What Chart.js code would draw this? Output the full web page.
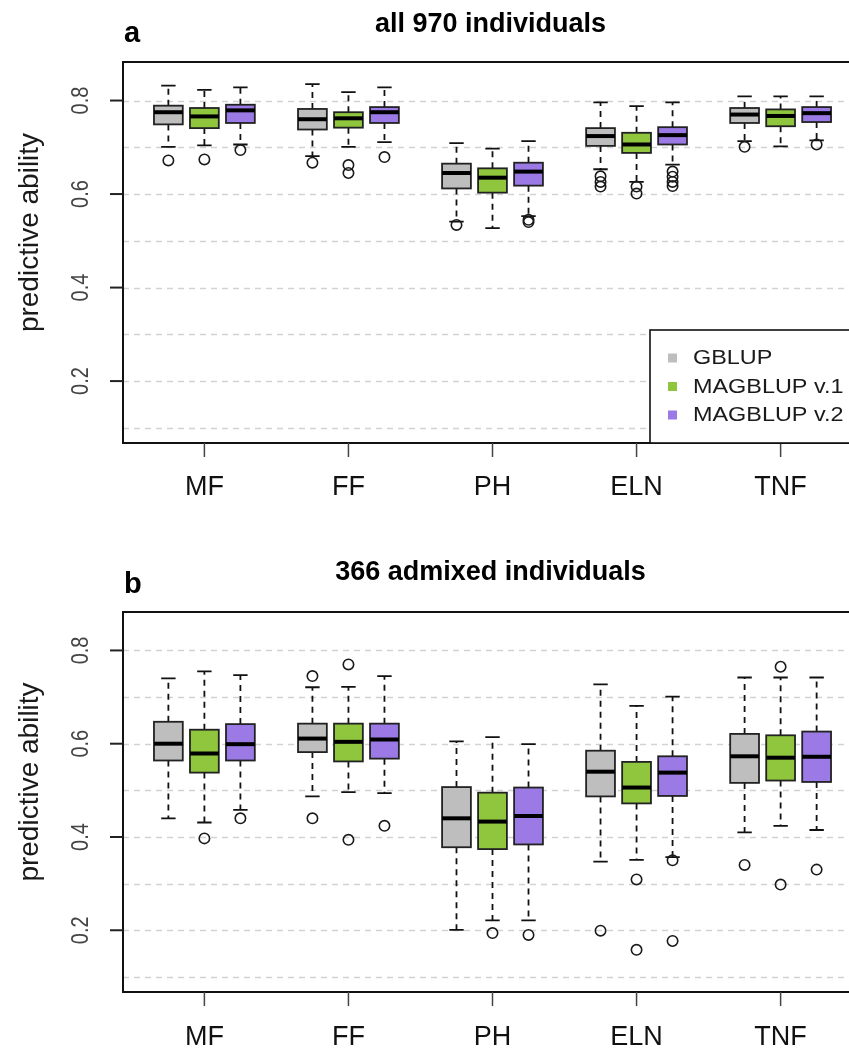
<!DOCTYPE html>
<html>
<head>
<meta charset="utf-8">
<script src="https://cdn.jsdelivr.net/npm/chart.js@4.4.0/dist/chart.umd.min.js"></script>
<style>
  html, body { margin: 0; padding: 0; background: #fff; overflow: hidden; width: 849px; height: 1048px; }
  .panel { position: absolute; left: 0; width: 880px; }
  #pa { top: 0; height: 520px; }
  #pb { top: 520px; height: 528px; }
</style>
</head>
<body>
<div class="panel" id="pa"><canvas id="chartA"></canvas></div>
<div class="panel" id="pb"><canvas id="chartB"></canvas></div>
<script>
// Box stats per trait: [lower whisker, Q1, median, Q3, upper whisker]
const traits = ['MF', 'FF', 'PH', 'ELN', 'TNF'];
const methods = ['GBLUP', 'MAGBLUP v.1', 'MAGBLUP v.2'];
const methodColors = ['#bebebe', '#8fc63e', '#9b7ae6'];
const yTicks = [0.2, 0.4, 0.6, 0.8];
const yGrid = [0.1, 0.2, 0.3, 0.4, 0.5, 0.6, 0.7, 0.8];

// panel a — all 970 individuals
const allGblup = [[0.701, 0.749, 0.775, 0.789, 0.832], [0.681, 0.738, 0.760, 0.782, 0.835], [0.541, 0.612, 0.645, 0.665, 0.709], [0.653, 0.703, 0.724, 0.741, 0.796], [0.713, 0.752, 0.770, 0.784, 0.809]];
const allMag1  = [[0.704, 0.741, 0.766, 0.784, 0.823], [0.701, 0.742, 0.762, 0.775, 0.818], [0.527, 0.603, 0.635, 0.655, 0.697], [0.626, 0.688, 0.706, 0.731, 0.788], [0.702, 0.745, 0.767, 0.781, 0.809]];
const allMag2  = [[0.706, 0.752, 0.779, 0.791, 0.828], [0.711, 0.752, 0.775, 0.786, 0.828], [0.553, 0.618, 0.648, 0.667, 0.713], [0.663, 0.706, 0.726, 0.743, 0.796], [0.715, 0.754, 0.773, 0.786, 0.809]];
const allGblupOut = [[0.672], [0.667], [0.534], [0.638, 0.626, 0.616], [0.701]];
const allMag1Out  = [[0.674], [0.662, 0.645], [], [0.616, 0.601], []];
const allMag2Out  = [[0.694], [0.679], [0.545, 0.540], [0.648, 0.637, 0.626, 0.617], [0.706]];

// panel b — 366 admixed individuals
const admGblup = [[0.440, 0.564, 0.600, 0.647, 0.740], [0.487, 0.582, 0.611, 0.643, 0.721], [0.201, 0.378, 0.440, 0.507, 0.605], [0.347, 0.487, 0.540, 0.585, 0.727], [0.410, 0.516, 0.573, 0.621, 0.742]];
const admMag1  = [[0.431, 0.538, 0.579, 0.630, 0.755], [0.496, 0.562, 0.604, 0.643, 0.722], [0.221, 0.374, 0.433, 0.495, 0.614], [0.351, 0.472, 0.506, 0.561, 0.681], [0.424, 0.521, 0.570, 0.618, 0.742]];
const admMag2  = [[0.458, 0.564, 0.599, 0.642, 0.747], [0.494, 0.568, 0.609, 0.643, 0.745], [0.221, 0.384, 0.445, 0.506, 0.599], [0.357, 0.488, 0.538, 0.573, 0.701], [0.415, 0.518, 0.572, 0.626, 0.742]];
const admGblupOut = [[], [0.745, 0.440], [], [0.199], [0.340]];
const admMag1Out  = [[0.397], [0.770, 0.394], [0.194], [0.309, 0.158], [0.765, 0.298]];
const admMag2Out  = [[0.440], [0.424], [0.190], [0.350, 0.177], [0.330]];

const FONT = '"Liberation Sans", Arial, sans-serif';
const boxW = 0.8;   // in x units (one box slot = 1)
const xMin = -0.26, xMax = 20.26, yMin = 0.0676, yMax = 0.8824;

function pos(ti, mi) { return ti * 4 + mi + 1; }

function outlierSets(outs) {
  return outs.map((perTrait, mi) => ({
    type: 'scatter',
    label: methods[mi],
    data: perTrait.flatMap((vals, ti) => vals.map(v => ({ x: pos(ti, mi), y: v }))),
    pointStyle: 'circle',
    pointRadius: 5.2,
    pointBackgroundColor: 'rgba(0,0,0,0)',
    pointBorderColor: '#1a1a1a',
    pointBorderWidth: 1.6
  }));
}

const boxPlugin = {
  id: 'rbox',
  beforeDatasetsDraw(chart) {
    const o = chart.options.plugins.rbox;
    const { ctx, chartArea: a, scales: { x, y } } = chart;
    ctx.save();
    // dashed grid
    ctx.strokeStyle = '#d2d2d2';
    ctx.lineWidth = 1.5;
    ctx.setLineDash([6, 5]);
    yGrid.forEach(v => {
      const py = Math.round(y.getPixelForValue(v)) + 0.5;
      ctx.beginPath(); ctx.moveTo(a.left, py); ctx.lineTo(a.right, py); ctx.stroke();
    });
    // boxes
    o.stats.forEach((series, mi) => {
      series.forEach((s, ti) => {
        const cx = x.getPixelForValue(pos(ti, mi));
        const half = (x.getPixelForValue(boxW / 2) - x.getPixelForValue(0));
        const cap = half / 2;
        const [lo, q1, med, q3, hi] = s.map(v => y.getPixelForValue(v));
        ctx.strokeStyle = '#111';
        ctx.lineWidth = 1.8;
        ctx.setLineDash([6, 5]);
        ctx.beginPath();
        ctx.moveTo(cx, q3); ctx.lineTo(cx, hi);
        ctx.moveTo(cx, q1); ctx.lineTo(cx, lo);
        ctx.stroke();
        ctx.setLineDash([]);
        ctx.beginPath();
        ctx.moveTo(cx - cap, hi); ctx.lineTo(cx + cap, hi);
        ctx.moveTo(cx - cap, lo); ctx.lineTo(cx + cap, lo);
        ctx.stroke();
        ctx.fillStyle = methodColors[mi];
        ctx.fillRect(cx - half, q3, half * 2, q1 - q3);
        ctx.lineWidth = 1.8;
        ctx.strokeStyle = '#222';
        ctx.strokeRect(cx - half, q3, half * 2, q1 - q3);
        ctx.lineWidth = 4;
        ctx.strokeStyle = '#000';
        ctx.beginPath(); ctx.moveTo(cx - half, med); ctx.lineTo(cx + half, med); ctx.stroke();
      });
    });
    ctx.restore();
  },
  afterDraw(chart) {
    const o = chart.options.plugins.rbox;
    const { ctx, chartArea: a, scales: { x, y } } = chart;
    ctx.save();
    // frame
    ctx.strokeStyle = '#111';
    ctx.lineWidth = 2;
    ctx.beginPath();
    ctx.moveTo(a.right, a.top); ctx.lineTo(a.left, a.top); ctx.lineTo(a.left, a.bottom); ctx.lineTo(a.right, a.bottom);
    ctx.stroke();
    // y ticks + rotated labels
    yTicks.forEach(v => {
      const py = y.getPixelForValue(v);
      ctx.strokeStyle = '#222'; ctx.lineWidth = 2;
      ctx.beginPath(); ctx.moveTo(a.left - 13, py); ctx.lineTo(a.left, py); ctx.stroke();
      ctx.save();
      ctx.translate(a.left - 42, py);
      ctx.rotate(-Math.PI / 2);
      ctx.scale(1, 1.2);
      ctx.fillStyle = '#444';
      ctx.font = '20px ' + FONT;
      ctx.textAlign = 'center'; ctx.textBaseline = 'middle';
      ctx.fillText(v.toFixed(1), 0, 0);
      ctx.restore();
    });
    // y title
    ctx.save();
    ctx.translate(30, (a.top + a.bottom) / 2 - 20);
    ctx.rotate(-Math.PI / 2);
    ctx.fillStyle = '#1a1a1a';
    ctx.font = '28px ' + FONT;
    ctx.textAlign = 'center'; ctx.textBaseline = 'middle';
    ctx.fillText('predictive ability', 0, 0);
    ctx.restore();
    // x ticks + labels
    traits.forEach((t, ti) => {
      const px = x.getPixelForValue(pos(ti, 1));
      ctx.strokeStyle = '#444'; ctx.lineWidth = 1.5;
      ctx.beginPath(); ctx.moveTo(px, a.bottom); ctx.lineTo(px, a.bottom + 14); ctx.stroke();
      ctx.fillStyle = '#111';
      ctx.font = '27px ' + FONT;
      ctx.textAlign = 'center'; ctx.textBaseline = 'alphabetic';
      ctx.fillText(t, px, a.bottom + o.labelGap);
    });
    // titles
    ctx.fillStyle = '#000';
    ctx.font = 'bold 27px ' + FONT;
    ctx.textAlign = 'center';
    ctx.fillText(o.title, (a.left + a.right) / 2 - 2, o.titleY);
    ctx.font = 'bold 29px ' + FONT;
    ctx.textAlign = 'left';
    ctx.fillText(o.letter, a.left + 1, o.letterY);
    // legend
    if (o.legend) {
      const lx = 650, ly = 330;
      ctx.fillStyle = '#fff';
      ctx.fillRect(lx, ly, a.right - lx, a.bottom - ly);
      ctx.strokeStyle = '#111'; ctx.lineWidth = 1.6;
      ctx.strokeRect(lx, ly, a.right - lx + 10, a.bottom - ly);
      ctx.textBaseline = 'middle';
      methods.forEach((m, i) => {
        const ry = 358 + i * 28.5;
        ctx.fillStyle = methodColors[i];
        ctx.fillRect(668, ry - 4.5, 9, 9);
        ctx.save();
        ctx.translate(693, ry + 1);
        ctx.scale(1.2, 1);
        ctx.fillStyle = '#1a1a1a';
        ctx.font = '19.5px ' + FONT;
        ctx.fillText(m, 0, 0);
        ctx.restore();
      });
    }
    ctx.restore();
  }
};

function makeChart(id, stats, outs, extra, pad) {
  return new Chart(document.getElementById(id), {
    type: 'scatter',
    data: { datasets: outlierSets(outs) },
    options: {
      responsive: true,
      maintainAspectRatio: false,
      animation: false,
      events: [],
      layout: { padding: pad },
      plugins: {
        legend: { display: false },
        tooltip: { enabled: false },
        rbox: Object.assign({ stats: stats }, extra)
      },
      scales: {
        x: { type: 'linear', display: false, min: xMin, max: xMax },
        y: { type: 'linear', display: false, min: yMin, max: yMax }
      }
    },
    plugins: [boxPlugin]
  });
}

makeChart('chartA', [allGblup, allMag1, allMag2], [allGblupOut, allMag1Out, allMag2Out],
  { title: 'all 970 individuals', titleY: 32, letter: 'a', letterY: 42, labelGap: 52, legend: true },
  { left: 123, top: 62, right: 18, bottom: 77 });

makeChart('chartB', [admGblup, admMag1, admMag2], [admGblupOut, admMag1Out, admMag2Out],
  { title: '366 admixed individuals', titleY: 60, letter: 'b', letterY: 73, labelGap: 53, legend: false },
  { left: 123, top: 92, right: 18, bottom: 56 });
</script>
</body>
</html>
